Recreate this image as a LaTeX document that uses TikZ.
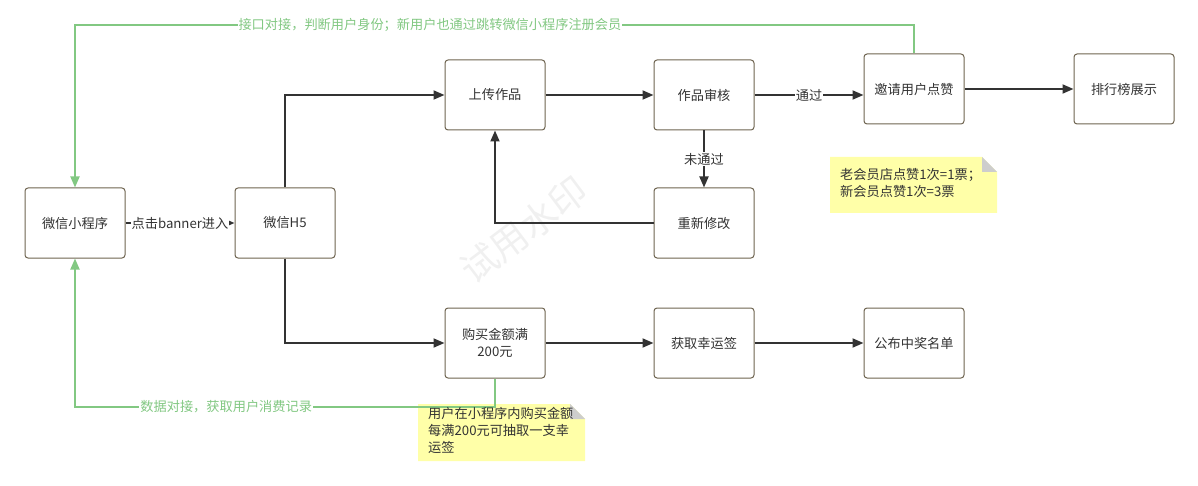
\documentclass[tikz,border=0pt]{standalone}
\usepackage{fontspec}
\setmainfont{Noto Sans CJK SC}
\usetikzlibrary{arrows.meta}
\definecolor{boxc}{RGB}{110,100,80}
\definecolor{txt}{RGB}{51,51,51}
\definecolor{arr}{RGB}{51,51,51}
\definecolor{grn}{RGB}{130,200,130}
\definecolor{notefill}{RGB}{255,255,168}
\definecolor{foldc}{RGB}{205,205,205}
\tikzset{
  box/.style={draw=boxc, line width=1pt, rounded corners=3pt, fill=white,
    minimum width=100pt, minimum height=70pt, align=center, text=txt,
    font=\fontsize{13.2}{16.5}\selectfont, inner sep=2pt},
  flow/.style={draw=arr, line width=1.8pt, -{Triangle[length=11pt,width=9pt]}},
  gflow/.style={draw=grn, line width=1.8pt, -{Triangle[length=11pt,width=9pt]}},
  elabel/.style={fill=white, text=txt, font=\fontsize{13.2}{15}\selectfont, inner sep=1pt},
  glabel/.style={fill=white, text=grn, font=\fontsize{13.2}{15}\selectfont, inner sep=1pt},
  notetext/.style={anchor=north west, text=txt, align=left,
    font=\fontsize{13.2}{17}\selectfont, inner sep=0pt},
}
\begin{document}
\begin{tikzpicture}[x=1pt,y=-1pt]
\useasboundingbox (0,0) rectangle (1198,486);
% watermark
\node[text=black!6, rotate=37, font=\fontsize{37}{37}\selectfont] (wm) at (524,230) {试用水印};
% boxes
\node[box] (mini) at (75,223) {微信小程序};
\node[box] (h5) at (285,223) {微信H5};
\node[box] (upload) at (495,95) {上传作品};
\node[box] (review) at (704,95) {作品审核};
\node[box] (invite) at (914,89) {邀请用户点赞};
\node[box] (rank) at (1124,89) {排行榜展示};
\node[box] (modify) at (704,223) {重新修改};
\node[box] (buy) at (495,343) {购买金额满\\200元};
\node[box] (lucky) at (704,343) {获取幸运签};
\node[box] (winner) at (914,343) {公布中奖名单};
% notes
\fill[notefill] (830,157) -- (982,157) -- (997,172) -- (997,213) -- (830,213) -- cycle;
\fill[foldc] (982,157) -- (997,172) -- (982,172) -- cycle;
\node[notetext] (note1) at (840,168) {老会员店点赞1次=1票；\\新会员点赞1次=3票};
\fill[notefill] (418,404) -- (570,404) -- (585,419) -- (585,461) -- (418,461) -- cycle;
\fill[foldc] (570,404) -- (585,419) -- (570,419) -- cycle;
% coordinates
\coordinate (h5up) at (285,95);
\coordinate (h5dn) at (285,343);
\coordinate (modl) at (495,223);
\coordinate (g1) at (914,25);
\coordinate (g2) at (75,25);
\coordinate (g3) at (495,407);
\coordinate (g4) at (75,407);
% green connectors
\draw[gflow] (invite.north) -- (g1) -- node[glabel, pos=0.577]{接口对接，判断用户身份；新用户也通过跳转微信小程序注册会员} (g2) -- (mini.north);
\draw[gflow] (buy.south) -- (g3) -- node[glabel, pos=0.64]{数据对接，获取用户消费记录} (g4) -- (mini.south);
\node[notetext] (note2) at (428,407) {用户在小程序内购买金额\\每满200元可抽取一支幸\\运签};
% black connectors
\draw[flow] (mini) -- node[elabel]{点击banner进入} (h5);
\draw[flow] (h5.north) -- (h5up) -- (upload.west);
\draw[flow] (h5.south) -- (h5dn) -- (buy.west);
\draw[flow] (upload) -- (review);
\draw[flow] (review.east) -- node[elabel]{通过} (review.east -| invite.west);
\draw[flow] (invite) -- (rank);
\draw[flow] (review) -- node[elabel]{未通过} (modify);
\draw[flow] (modify.west) -- (modl) -- (upload.south);
\draw[flow] (buy) -- (lucky);
\draw[flow] (lucky) -- (winner);
\end{tikzpicture}
\end{document}
